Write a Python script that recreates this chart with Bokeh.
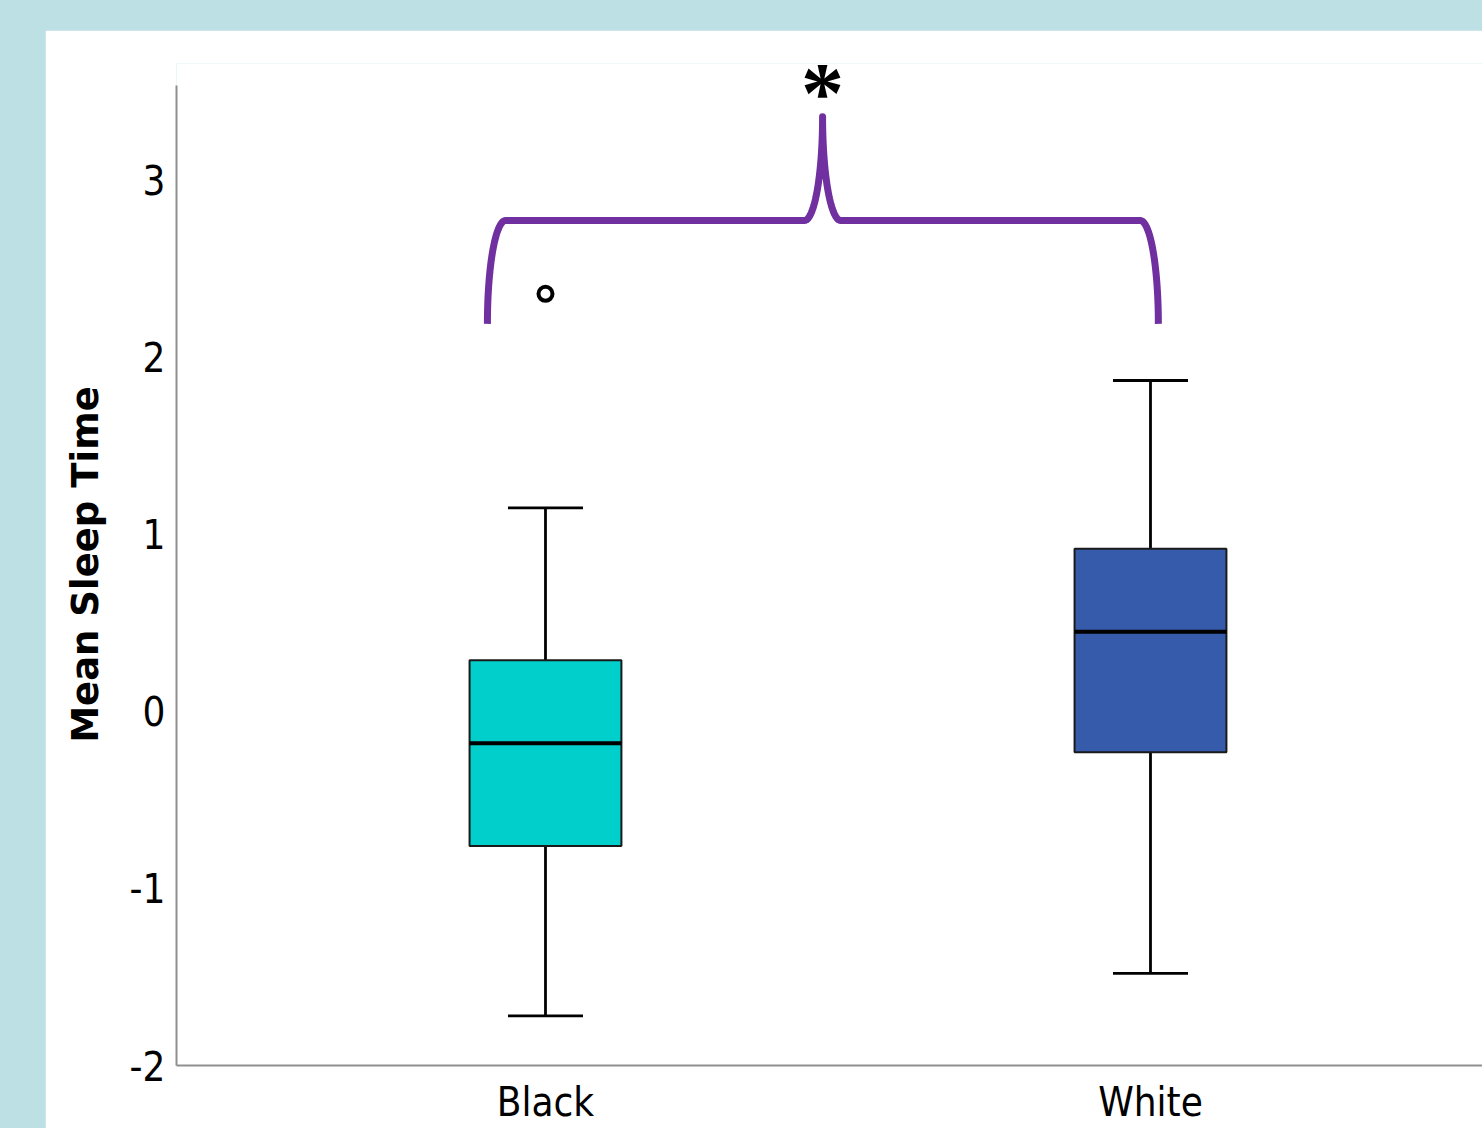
import numpy as np
from bokeh.plotting import figure
from bokeh.models import Range1d, FixedTicker, Spacer, Column, Row, Label
from bokeh.embed import file_html
from bokeh.resources import INLINE

# ---- data ----
categories = ["Black", "White"]
upper_whisker = [1.15, 1.87]
q3 = [0.29, 0.92]
median = [-0.18, 0.45]
q1 = [-0.76, -0.23]
lower_whisker = [-1.72, -1.48]
outlier_cat = ["Black"]
outlier_val = [2.36]
box_colors = ["#00CFCC", "#355BAA"]
y_ticks = [-2, -1, 0, 1, 2, 3]
y_tick_labels = ["-2", "-1", "0", "1", "2", "3"]
y_title = "Mean Sleep Time"
signif_label = "*"

# significance bracket (data units)
br_left = 0.904
br_right = 2.013
br_foot = 2.19
br_bar = 2.774
br_tip_x = 1.458
br_tip_y = 3.36

Y_MIN, Y_AXIS_TOP, Y_VIEW_TOP = -2.0, 3.537, 3.661

TEAL = "#BCE0E3"
PURPLE = "#7030A0"
NARROW = "Liberation Sans Narrow, DejaVu Sans Condensed, sans-serif"

xpos = [i + 1 for i in range(len(categories))]
pos = {c: i + 1 for i, c in enumerate(categories)}

PAD_L, PAD_T = 45, 30
W, H = 1482 - PAD_L, 1128 - PAD_T
p = figure(width=W, height=H, output_backend="svg", toolbar_location=None,
           x_range=Range1d(0.3901, 0.3901 + (W - 131) / 605.0),
           y_range=Range1d(Y_MIN, Y_VIEW_TOP),
           min_border_left=131, min_border_right=0, min_border_top=33,
           min_border_bottom=63)
p.background_fill_color = "white"
p.border_fill_color = "white"
p.outline_line_color = None
p.grid.grid_line_color = None

# axes
for ax in (p.xaxis[0], p.yaxis[0]):
    ax.axis_line_color = "#8F8F8F"
    ax.axis_line_width = 2
    ax.major_tick_line_color = None
    ax.minor_tick_line_color = None
    ax.major_tick_out = 0
    ax.major_tick_in = 0
    ax.major_label_text_font = NARROW
    ax.major_label_text_font_size = "40px"
    ax.major_label_text_color = "black"

p.xaxis.ticker = FixedTicker(ticks=xpos)
p.xaxis.major_label_overrides = {x: c for x, c in zip(xpos, categories)}
p.xaxis.major_label_standoff = 13

p.yaxis.ticker = FixedTicker(ticks=y_ticks)
p.yaxis.major_label_overrides = {t: l for t, l in zip(y_ticks, y_tick_labels)}
p.yaxis.major_label_standoff = 11
p.yaxis.bounds = (Y_MIN, Y_AXIS_TOP)
p.yaxis.axis_label = y_title
p.yaxis.axis_label_text_font = "DejaVu Sans"
p.yaxis.axis_label_text_font_style = "bold"
p.yaxis.axis_label_text_font_size = "37px"
p.yaxis.axis_label_text_color = "black"
p.yaxis.axis_label_standoff = 20

# whiskers
p.segment(x0=xpos, y0=q3, x1=xpos, y1=upper_whisker, line_color="black", line_width=2.8)
p.segment(x0=xpos, y0=q1, x1=xpos, y1=lower_whisker, line_color="black", line_width=2.8)
cap_w = 0.124
p.segment(x0=[x - cap_w / 2 for x in xpos], y0=upper_whisker,
          x1=[x + cap_w / 2 for x in xpos], y1=upper_whisker, line_color="black", line_width=2.8)
p.segment(x0=[x - cap_w / 2 for x in xpos], y0=lower_whisker,
          x1=[x + cap_w / 2 for x in xpos], y1=lower_whisker, line_color="black", line_width=2.8)

# boxes
box_w = 0.251
p.vbar(x=xpos, width=box_w, top=q3, bottom=q1, fill_color=box_colors,
       line_color="#1a1a1a", line_width=2)
p.segment(x0=[x - box_w / 2 for x in xpos], y0=median,
          x1=[x + box_w / 2 for x in xpos], y1=median, line_color="black", line_width=4)

# outlier
p.scatter(x=[pos[c] for c in outlier_cat], y=outlier_val, marker="circle", size=14,
          fill_color="white", line_color="black", line_width=4)

# significance bracket
t = np.linspace(0, np.pi / 2, 30)
dx = 0.03
dxc = 0.03
xs, ys = [], []
xs += list(br_left + dx - dx * np.cos(t)); ys += list(br_foot + (br_bar - br_foot) * np.sin(t))
xs += list(br_tip_x - dxc + dxc * np.sin(t)); ys += list(br_tip_y + (br_bar - br_tip_y) * np.cos(t))
xs += list(br_tip_x + dxc - dxc * np.cos(t)); ys += list(br_tip_y + (br_bar - br_tip_y) * np.sin(t))
xs += list(br_right - dx + dx * np.sin(t)); ys += list(br_foot + (br_bar - br_foot) * np.cos(t))
p.line(xs, ys, line_color=PURPLE, line_width=7, line_join="round")

star = Label(x=br_tip_x, y=br_tip_y, text=signif_label, text_font="Liberation Serif",
             text_font_style="bold", text_font_size="86px", text_align="center",
             text_baseline="middle", y_offset=24, text_color="black")
p.add_layout(star)

layout = Column(children=[Spacer(width=1482, height=PAD_T),
                          Row(children=[Spacer(width=PAD_L, height=H), p])],
                styles={"background-color": TEAL}, spacing=0)

open("out.html", "w").write(file_html(layout, INLINE))
